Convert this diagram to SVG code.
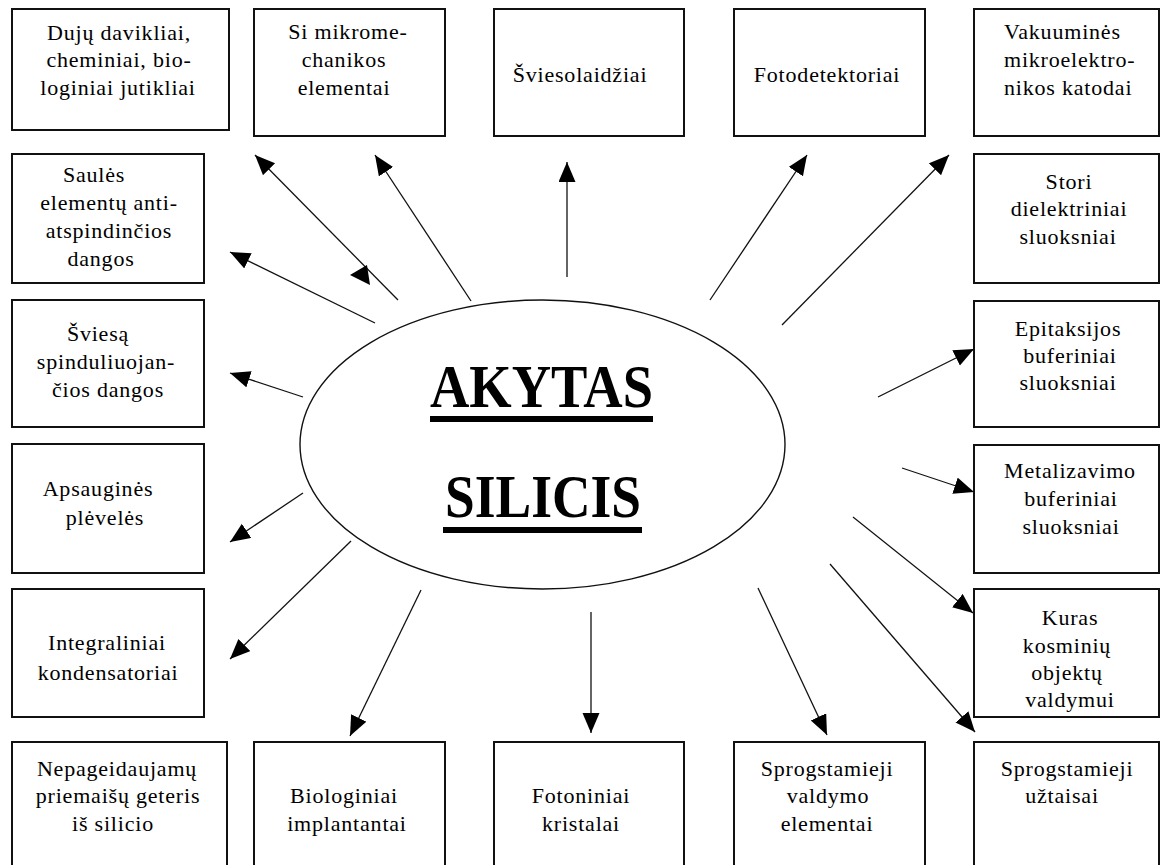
<svg xmlns="http://www.w3.org/2000/svg" width="1164" height="865" viewBox="0 0 1164 865">
<defs>
<marker id="ah" markerUnits="userSpaceOnUse" markerWidth="21" markerHeight="18" viewBox="0 0 21 18" refX="20" refY="8.5" orient="auto"><path d="M0,0 L20,8.5 L0,17 z" fill="#000"/></marker>
</defs>
<style>
.box{fill:#fff;stroke:#111;stroke-width:2}
.t{font-family:"Liberation Serif","Times New Roman",serif;font-size:22px;fill:#000;letter-spacing:0.8px;text-anchor:middle}
.ts{text-anchor:start}
.c{stroke:#111;stroke-width:1.3;fill:none;marker-end:url(#ah)}
.title{font-family:"Liberation Serif","Times New Roman",serif;font-weight:bold;font-size:62px;fill:#000}
</style>
<rect width="1164" height="865" fill="#fff"/>

<g id="center">
<ellipse cx="542.5" cy="444.5" rx="242.5" ry="144.5" fill="#fff" stroke="#111" stroke-width="1.4"/>
<text class="title" x="430" y="407" textLength="223" lengthAdjust="spacingAndGlyphs">AKYTAS</text>
<rect x="430" y="416" width="223" height="6" fill="#000"/>
<text class="title" x="445" y="517" textLength="196" lengthAdjust="spacingAndGlyphs">SILICIS</text>
<rect x="443" y="527" width="199" height="6" fill="#000"/>
</g>

<g id="connectors">
<line class="c" x1="398" y1="300" x2="255" y2="155"/>
<polygon points="350,275 367,265 370,285" fill="#000"/>
<line class="c" x1="471" y1="301" x2="375" y2="155"/>
<line class="c" x1="567" y1="277" x2="567" y2="162"/>
<line class="c" x1="710" y1="300" x2="807" y2="155"/>
<line class="c" x1="782" y1="325" x2="949" y2="155"/>
<line class="c" x1="375" y1="323" x2="230" y2="252"/>
<line class="c" x1="303" y1="397" x2="230" y2="373"/>
<line class="c" x1="303" y1="493" x2="230" y2="542"/>
<line class="c" x1="351" y1="541" x2="230" y2="659"/>
<line class="c" x1="421" y1="590" x2="350" y2="736"/>
<line class="c" x1="591" y1="612" x2="591" y2="733"/>
<line class="c" x1="758" y1="588" x2="827" y2="735"/>
<line class="c" x1="830" y1="564" x2="975" y2="732"/>
<line class="c" x1="853" y1="517" x2="973" y2="613"/>
<line class="c" x1="902" y1="468" x2="974" y2="492"/>
<line class="c" x1="878" y1="397" x2="974" y2="349"/>
</g>

<g id="n-dujų">
<rect class="box" x="12" y="9" width="217" height="121"/>
<text class="t" x="119" y="40">Dujų davikliai,</text>
<text class="t" x="119" y="67">cheminiai, bio-</text>
<text class="t" x="118" y="95">loginiai jutikliai</text>
</g>
<g id="n-si">
<rect class="box" x="254" y="9" width="191" height="127"/>
<text class="t" x="348" y="39">Si mikrome-</text>
<text class="t" x="344" y="67">chanikos</text>
<text class="t" x="344" y="95">elementai</text>
</g>
<g id="n-sviesolaidziai">
<rect class="box" x="494" y="9" width="190" height="127"/>
<text class="t" x="580" y="82">Šviesolaidžiai</text>
</g>
<g id="n-fotodetektoriai">
<rect class="box" x="734" y="9" width="191" height="127"/>
<text class="t" x="827" y="82">Fotodetektoriai</text>
</g>
<g id="n-vakuumines">
<rect class="box" x="974" y="9" width="185" height="127"/>
<text class="t ts" x="1004" y="39">Vakuuminės</text>
<text class="t ts" x="1004" y="67">mikroelektro-</text>
<text class="t ts" x="1004" y="95">nikos katodai</text>
</g>

<g id="n-saules">
<rect class="box" x="12" y="154" width="192" height="129"/>
<text class="t" x="94" y="182">Saulės</text>
<text class="t" x="109" y="210">elementų anti-</text>
<text class="t" x="109" y="238">atspindinčios</text>
<text class="t" x="101" y="266">dangos</text>
</g>
<g id="n-sviesa">
<rect class="box" x="12" y="300" width="192" height="127"/>
<text class="t" x="98" y="341">Šviesą</text>
<text class="t" x="106" y="369">spinduliuojan-</text>
<text class="t" x="108" y="397">čios dangos</text>
</g>
<g id="n-apsaugines">
<rect class="box" x="12" y="444" width="192" height="129"/>
<text class="t" x="98" y="496">Apsauginės</text>
<text class="t" x="105" y="525">plėvelės</text>
</g>
<g id="n-integraliniai">
<rect class="box" x="12" y="589" width="192" height="128"/>
<text class="t" x="107" y="650">Integraliniai</text>
<text class="t" x="108" y="680">kondensatoriai</text>
</g>

<g id="n-stori">
<rect class="box" x="974" y="154" width="185" height="129"/>
<text class="t" x="1069" y="189">Stori</text>
<text class="t" x="1069" y="216">dielektriniai</text>
<text class="t" x="1068" y="244">sluoksniai</text>
</g>
<g id="n-epitaksijos">
<rect class="box" x="974" y="301" width="185" height="126"/>
<text class="t" x="1068" y="336">Epitaksijos</text>
<text class="t" x="1070" y="363">buferiniai</text>
<text class="t" x="1068" y="390">sluoksniai</text>
</g>
<g id="n-metalizavimo">
<rect class="box" x="974" y="445" width="185" height="128"/>
<text class="t" x="1070" y="478">Metalizavimo</text>
<text class="t" x="1071" y="506">buferiniai</text>
<text class="t" x="1071" y="534">sluoksniai</text>
</g>
<g id="n-kuras">
<rect class="box" x="974" y="589" width="185" height="128"/>
<text class="t" x="1070" y="625">Kuras</text>
<text class="t" x="1067" y="653">kosminių</text>
<text class="t" x="1067" y="680">objektų</text>
<text class="t" x="1070" y="707">valdymui</text>
</g>

<g id="n-nepageidaujamu">
<rect class="box" x="12" y="742" width="215" height="130"/>
<text class="t" x="117" y="776">Nepageidaujamų</text>
<text class="t" x="118" y="803">priemaišų geteris</text>
<text class="t" x="113" y="831">iš silicio</text>
</g>
<g id="n-biologiniai">
<rect class="box" x="254" y="742" width="191" height="130"/>
<text class="t" x="344" y="803">Biologiniai</text>
<text class="t" x="347" y="831">implantantai</text>
</g>
<g id="n-fotoniniai">
<rect class="box" x="494" y="742" width="190" height="130"/>
<text class="t" x="581" y="803">Fotoniniai</text>
<text class="t" x="581" y="831">kristalai</text>
</g>
<g id="n-sprog-valdymo">
<rect class="box" x="734" y="742" width="191" height="130"/>
<text class="t" x="827" y="776">Sprogstamieji</text>
<text class="t" x="828" y="803">valdymo</text>
<text class="t" x="827" y="831">elementai</text>
</g>
<g id="n-sprog-uztaisai">
<rect class="box" x="974" y="742" width="185" height="130"/>
<text class="t" x="1067" y="776">Sprogstamieji</text>
<text class="t" x="1062" y="803">užtaisai</text>
</g>
</svg>
